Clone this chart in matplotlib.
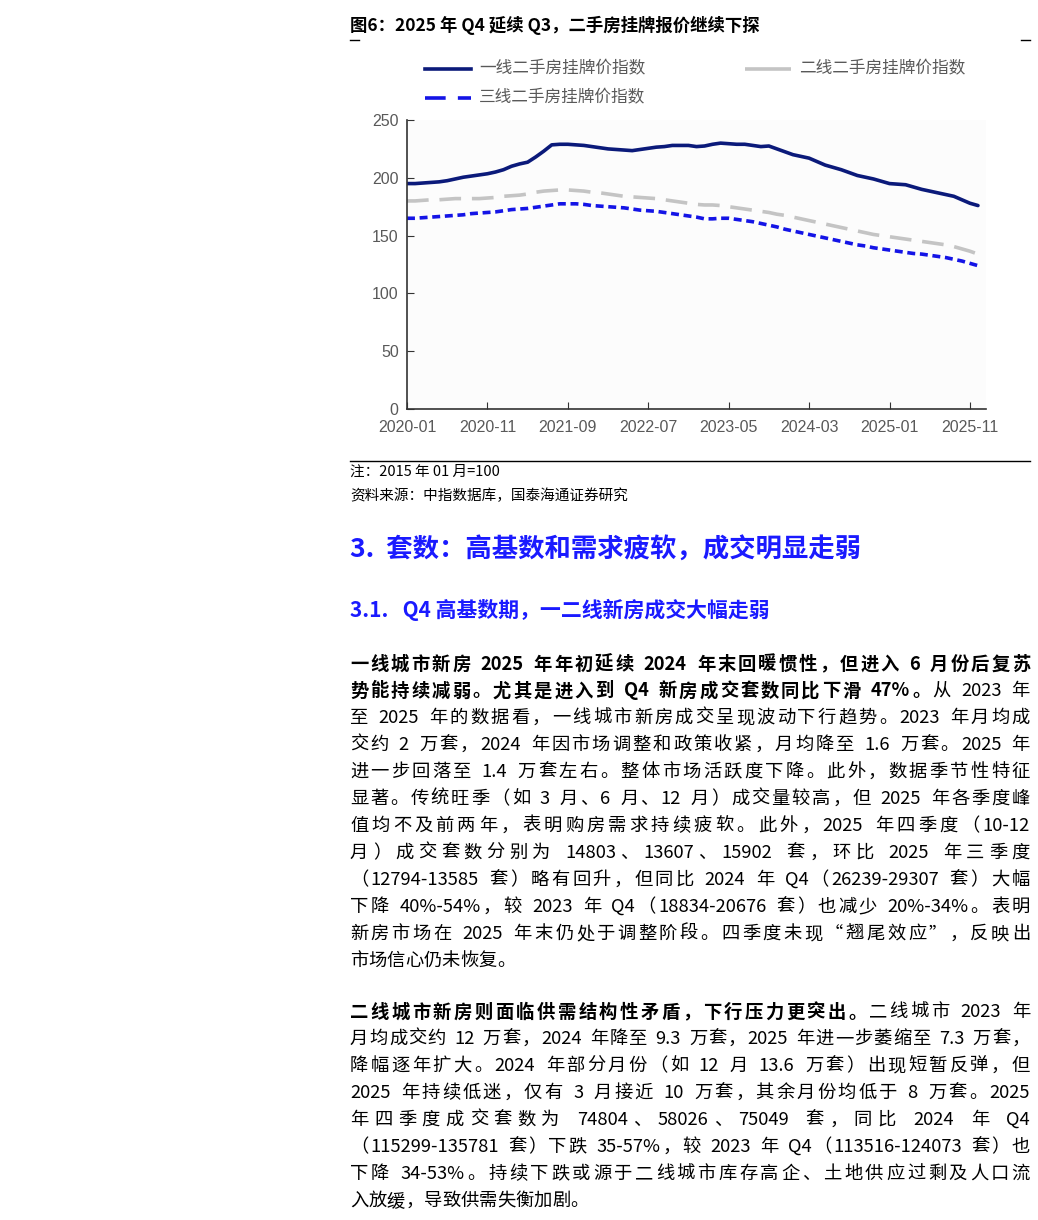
import matplotlib
matplotlib.use("Agg")
import matplotlib.pyplot as plt
import numpy as np

plt.rcParams['font.family'] = ['Noto Sans CJK SC', 'DejaVu Sans']

tick_labels = ["2020-01","2020-11","2021-09","2022-07","2023-05","2024-03","2025-01","2025-11"]
tier1 = [195,195,195.5,196,196.5,197.5,199,200.5,201.5,202.5,203.5,205,207,210,212,213.5,218,223,228.5,229,
         229,228.5,228,227,226,225,224.5,224,223.5,224.5,225.5,226.5,227,228,228,228,227,227.5,229,230,
         229.5,229,229,228,227,227.5,225,222.5,220,218.5,217,214,211,209,207,204.5,202,200.5,199,197,
         195,194.5,194,192,190,188.5,187,185.5,184,181,178,176]
tier2 = [180,180,180.5,181,181,181.5,182,182,182,182,182.5,183,184,184.5,185,186,187.5,188.5,189,189.5,
         189.5,189,188.5,187.5,187,186,185,184,183.5,183,182.5,182,181,180,179,178,177,176.5,176.5,176,
         175,174,173,172,171,170,168.5,167.5,166,164.5,163,161.5,160,158.5,157,155.5,154,152.5,151,150,
         149,148,147,146,145,144,143,142,140.5,138.5,136.5,134]
tier3 = [165,165,165.5,166,166.5,167,167.5,168,169,169.5,170,170.5,171.5,172.5,173,173.5,174.5,175.5,176.5,177.5,
         177.5,177.5,177,176,175.5,175,174.5,174,173,172,171.5,171,170,169,168,167,166,164.5,164.5,165,
         165,164,163,162,160.5,159,157.5,155.5,154,152.5,151,149.5,148,146.5,145,143.5,142,141,139.5,138.5,
         137.5,136.5,135.5,134.5,134,133,132,131,129.5,128,126,124]
series_names = ["一线二手房挂牌价指数", "二线二手房挂牌价指数", "三线二手房挂牌价指数"]

W, H = 1038, 1220
fig = plt.figure(figsize=(W/100, H/100), dpi=100)
def fy(y): return 1 - y/H
def fx(x): return x/W

fig.text(fx(350), fy(25), "图6：2025 年 Q4 延续 Q3，二手房挂牌报价继续下探", fontsize=12.5,
         fontweight='bold', va='center', ha='left')
for x0 in (350, 1021):
    fig.add_artist(plt.Line2D([fx(x0), fx(x0+9)], [fy(40), fy(40)], color='black', lw=1))

ax = fig.add_axes([fx(407), fy(409), fx(986-407), (409-120)/H])
ax.set_facecolor('#fcfcfc')
x1 = np.arange(len(tier1)); x2 = np.arange(len(tier2)); x3 = np.arange(len(tier3))
l1, = ax.plot(x1, tier1, color='#0b1a7a', lw=2.6, solid_capstyle='round')
l2, = ax.plot(x2, tier2, color='#c4c4c4', lw=2.6, dashes=(6, 3))
l3, = ax.plot(x3, tier3, color='#1414e6', lw=2.6, dashes=(2.2, 1.3))
ax.set_xlim(0, 72)
ax.set_ylim(0, 250)
ax.set_xticks(np.arange(0, 71, 10))
ax.set_xticklabels(tick_labels)
ax.set_yticks(np.arange(0, 251, 50))
for s in ('top', 'right'):
    ax.spines[s].set_visible(False)
for s in ('left', 'bottom'):
    ax.spines[s].set_color('#333333'); ax.spines[s].set_linewidth(1.2)
ax.tick_params(direction='in', length=5, color='#333333', labelcolor='#595959', labelsize=11.5)
for t in ax.get_xticklabels() + ax.get_yticklabels():
    t.set_fontfamily(['Liberation Sans', 'DejaVu Sans'])
ax.tick_params(axis='x', pad=8)
ax.tick_params(axis='y', pad=6)

legends = [(425, 69, l1, series_names[0]), (745, 69, l2, series_names[1]), (425, 98, l3, series_names[2])]
for lx, ly, ln, name in legends:
    fig.add_artist(plt.Line2D([fx(lx), fx(lx+46)], [fy(ly), fy(ly)], color=ln.get_color(),
                              lw=2.6, dashes=ln._dash_pattern[1] if ln._dash_pattern[1] else (None, None)))
    fig.text(fx(lx+54), fy(ly), name, fontsize=12, color='#595959', va='center')

fig.add_artist(plt.Line2D([fx(350), fx(1030)], [fy(461), fy(461)], color='black', lw=1))
fig.text(fx(350), fy(472), "注：2015 年 01 月=100", fontsize=10.5, va='center')
fig.text(fx(350), fy(496), "资料来源：中指数据库，国泰海通证券研究", fontsize=10.5, va='center')

fig.text(fx(350), fy(550), "3.  套数：高基数和需求疲软，成交明显走弱", fontsize=19, fontweight='bold',
         color='#1a1aff', va='center')
fig.text(fx(350), fy(610), "3.1.   Q4 高基数期，一二线新房成交大幅走弱", fontsize=15, fontweight='bold',
         color='#1a1aff', va='center')

B, N = True, False
para1 = [
    [("一线城市新房 2025 年年初延续 2024 年末回暖惯性，但进入 6 月份后复苏", B)],
    [("势能持续减弱。尤其是进入到 Q4 新房成交套数同比下滑 47%。", B), ("从 2023 年", N)],
    [("至 2025 年的数据看，一线城市新房成交呈现波动下行趋势。2023 年月均成", N)],
    [("交约 2 万套，2024 年因市场调整和政策收紧，月均降至 1.6 万套。2025 年", N)],
    [("进一步回落至 1.4 万套左右。整体市场活跃度下降。此外，数据季节性特征", N)],
    [("显著。传统旺季（如 3 月、6 月、12 月）成交量较高，但 2025 年各季度峰", N)],
    [("值均不及前两年，表明购房需求持续疲软。此外，2025 年四季度（10-12", N)],
    [("月）成交套数分别为 14803、13607、15902 套，环比 2025 年三季度", N)],
    [("（12794-13585 套）略有回升，但同比 2024 年 Q4（26239-29307 套）大幅", N)],
    [("下降 40%-54%，较 2023 年 Q4（18834-20676 套）也减少 20%-34%。表明", N)],
    [("新房市场在 2025 年末仍处于调整阶段。四季度未现“翘尾效应”，反映出", N)],
    [("市场信心仍未恢复。", N)],
]
para2 = [
    [("二线城市新房则面临供需结构性矛盾，下行压力更突出。", B), ("二线城市 2023 年", N)],
    [("月均成交约 12 万套，2024 年降至 9.3 万套，2025 年进一步萎缩至 7.3 万套，", N)],
    [("降幅逐年扩大。2024 年部分月份（如 12 月 13.6 万套）出现短暂反弹，但", N)],
    [("2025 年持续低迷，仅有 3 月接近 10 万套，其余月份均低于 8 万套。2025", N)],
    [("年四季度成交套数为 74804、58026、75049 套，同比 2024 年 Q4", N)],
    [("（115299-135781 套）下跌 35-57%，较 2023 年 Q4（113516-124073 套）也", N)],
    [("下降 34-53%。持续下跌或源于二线城市库存高企、土地供应过剩及人口流", N)],
    [("入放缓，导致供需失衡加剧。", N)],
]

renderer = fig.canvas.get_renderer()

def tokenize(s):
    toks, cur = [], ""
    for ch in s:
        if ord(ch) < 128 and ch != ' ':
            cur += ch
        else:
            if cur: toks.append(cur); cur = ""
            toks.append(ch)
    if cur: toks.append(cur)
    return toks

def draw_line(segs, y, justify, x0=350, x1=1030, fs=13.2):
    items = []
    for text, bold in segs:
        for tk in tokenize(text):
            t = fig.text(0, fy(y), tk, fontsize=fs, fontweight='bold' if bold else 'normal',
                         va='center', ha='left')
            w = t.get_window_extent(renderer).width if tk != ' ' else fs*100/72*0.33
            items.append((t, w))
    total = sum(w for _, w in items)
    gap = (x1 - x0 - total) / (len(items) - 1) if justify and len(items) > 1 else 0
    gap = max(gap, 0)
    x = x0
    for t, w in items:
        t.set_x(fx(x))
        x += w + gap

for i, line in enumerate(para1):
    draw_line(line, 664 + i*27, i < len(para1) - 1)
for i, line in enumerate(para2):
    draw_line(line, 1012 + i*27, i < len(para2) - 1)

fig.savefig("out.png", dpi=100)
